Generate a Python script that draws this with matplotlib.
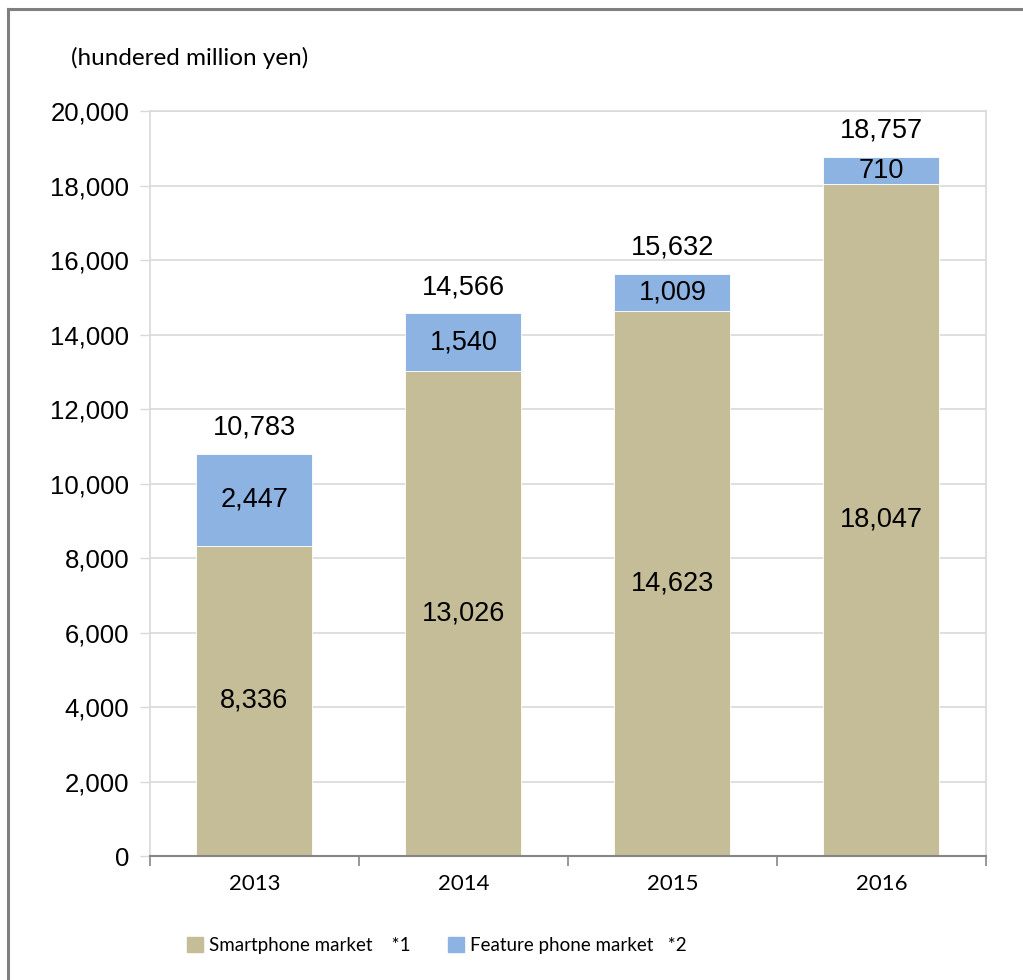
import matplotlib
matplotlib.use('Agg')
import matplotlib.pyplot as plt
from matplotlib.lines import Line2D
from matplotlib.patches import Patch

# market size by year, hundred million yen
years = ['2013', '2014', '2015', '2016']
smartphone = [8336, 13026, 14623, 18047]
feature_phone = [2447, 1540, 1009, 710]
totals = [10783, 14566, 15632, 18757]

SMART_COLOR = '#C4BD97'
FEATURE_COLOR = '#8DB3E2'
GRID = '#D9D9D9'

plt.rcParams['font.family'] = ['Liberation Sans', 'DejaVu Sans']

fig = plt.figure(figsize=(10.23, 9.8), dpi=100, facecolor='white')
ax = fig.add_axes([0.1466, 0.1265, 0.8172, 0.7602])

x = list(range(len(years)))
width = 0.555
ax.bar(x, smartphone, width, color=SMART_COLOR, edgecolor='white', linewidth=0.6, zorder=3)
ax.bar(x, feature_phone, width, bottom=smartphone, color=FEATURE_COLOR,
       edgecolor='white', linewidth=0.6, zorder=3)

for i in x:
    ax.text(i, smartphone[i] / 2, f"{smartphone[i]:,}", ha='center', va='center', fontsize=19.5, zorder=4)
    ax.text(i, smartphone[i] + feature_phone[i] / 2, f"{feature_phone[i]:,}",
            ha='center', va='center', fontsize=19.5, zorder=4)
    ax.annotate(f"{totals[i]:,}", (i, totals[i]), xytext=(0, 19), textcoords='offset points',
                ha='center', va='center', fontsize=19.5)

ax.set_xlim(-0.5, 3.5)
ax.set_ylim(0, 20000)
ax.set_yticks(range(0, 20001, 2000))
ax.set_yticklabels([f"{v:,}" for v in range(0, 20001, 2000)], fontsize=18.5)
ax.yaxis.grid(True, color=GRID, linewidth=1.2, zorder=0)
ax.tick_params(axis='y', length=7, width=1, color=GRID, pad=8)

# category boundaries carry the tick marks, labels sit at the centres
ax.set_xticks([-0.5, 0.5, 1.5, 2.5, 3.5])
ax.set_xticklabels([])
ax.tick_params(axis='x', which='major', length=7, width=1.2, color='#868686')
ax.set_xticks(x, minor=True)
ax.set_xticklabels(years, minor=True, fontsize=16, family=['Lato', 'DejaVu Sans'])
ax.tick_params(axis='x', which='minor', length=0, pad=13)

for side in ['left', 'top', 'right']:
    ax.spines[side].set_color(GRID)
    ax.spines[side].set_linewidth(1.2)
ax.spines['bottom'].set_color('#868686')
ax.spines['bottom'].set_linewidth(1.5)
ax.spines['bottom'].set_zorder(5)

fig.text(0.0694, 0.941, '(hundered million yen)', fontsize=17.5, va='center',
         family=['Lato', 'DejaVu Sans'])

handles = [Patch(color=SMART_COLOR), Patch(color=FEATURE_COLOR)]
fig.legend(handles, ['Smartphone market    *1', 'Feature phone market   *2'],
           loc='center', bbox_to_anchor=(0.427, 0.035), ncol=2, frameon=False,
           prop={'family': ['Lato', 'DejaVu Sans'], 'size': 13.5},
           handlelength=0.85, handleheight=0.85, handletextpad=0.3, columnspacing=2.0)

# outer frame
fig.add_artist(Line2D([0.0078, 0.0078], [0, 0.991], color='#7F7F7F', linewidth=2.2))
fig.add_artist(Line2D([0.0078, 1.0], [0.991, 0.991], color='#7F7F7F', linewidth=2.2))

fig.savefig('out.png', dpi=100, facecolor='white')
